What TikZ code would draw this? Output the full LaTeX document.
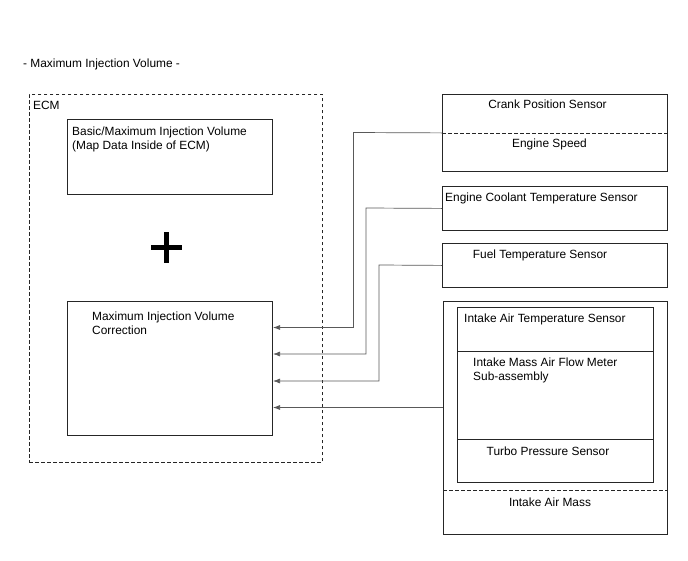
\documentclass[tikz,border=0pt]{standalone}
\usepackage{fontspec}
\setmainfont{Liberation Sans}
\usetikzlibrary{arrows.meta,calc}
\begin{document}
\begin{tikzpicture}[x=1pt,y=-1pt,
  every node/.style={font=\fontsize{11.9}{14}\selectfont, inner sep=0pt},
  box/.style={draw=black!85, line width=0.8pt, anchor=north west},
  dbox/.style={draw=black!85, line width=0.8pt, dashed, dash pattern=on 3.5pt off 2.5pt, anchor=north west},
  lbl/.style={anchor=base west, align=left},
  clbl/.style={anchor=base},
  conn/.style={draw=black!65, line width=0.7pt, -{Latex[length=7pt,width=5pt]}},
  sep/.style={draw=black!85, line width=0.8pt, dash pattern=on 3.5pt off 2.5pt}]
\useasboundingbox (0,0) rectangle (688,560);
% title
\node[lbl] (title) at (23,67) {- Maximum Injection Volume -};
% ECM
\node[dbox, minimum width=293pt, minimum height=368pt] (ecm) at (29,94) {};
\node[lbl] (ecmlbl) at (33,109) {ECM};
\node[box, minimum width=205pt, minimum height=75pt] (basic) at (67,119) {};
\node[lbl] (basicl1) at (72,135.5) {Basic/Maximum Injection Volume};
\node[lbl] (basicl2) at (72,149.5) {(Map Data Inside of ECM)};
% plus
\coordinate (pc) at (166.5,247.5);
\fill[black] ($(pc)+(-15.5,-2.5)$) rectangle ($(pc)+(15.5,2.5)$);
\fill[black] ($(pc)+(-2.5,-15.5)$) rectangle ($(pc)+(2.5,15.5)$);
\node[box, minimum width=205pt, minimum height=134pt] (corr) at (67,301) {};
\node[lbl] (corrl1) at (92,320) {Maximum Injection Volume};
\node[lbl] (corrl2) at (92,334) {Correction};
% right boxes
\node[box, minimum width=225pt, minimum height=77pt] (crank) at (442,94) {};
\draw[sep] (crank.west) -- (crank.east);
\node[clbl] (crankl) at (547.5,108) {Crank Position Sensor};
\node[clbl] (engspd) at (549.5,147) {Engine Speed};
\node[box, minimum width=225pt, minimum height=44pt] (ect) at (442,186) {};
\node[lbl] (ectl) at (445,201) {Engine Coolant Temperature Sensor};
\node[box, minimum width=225pt, minimum height=44pt] (fuel) at (442,243) {};
\node[clbl] (fuell) at (540,258) {Fuel Temperature Sensor};
\node[box, minimum width=224pt, minimum height=233pt] (intake) at (443,301) {};
\node[box, minimum width=196pt, minimum height=175pt] (inner) at (457,307) {};
\draw[draw=black!85, line width=0.8pt] (457,351) -- (653,351);
\draw[draw=black!85, line width=0.8pt] (457,439) -- (653,439);
\draw[sep] (443,490) -- (667,490);
\node[lbl] (iatl) at (464,322.5) {Intake Air Temperature Sensor};
\node[lbl] (mafl1) at (473,366) {Intake Mass Air Flow Meter};
\node[lbl] (mafl2) at (473,380) {Sub-assembly};
\node[clbl] (tpsl) at (548,455) {Turbo Pressure Sensor};
\node[clbl] (iaml) at (550,506) {Intake Air Mass};
% connectors
\coordinate (a1) at (273,327.5);
\coordinate (a2) at (273,354);
\coordinate (a3) at (273,381);
\coordinate (a4) at (273,407.5);
\coordinate (s4) at (443,407.5);
\draw[conn] (crank.west) -- (353.5,132.5) |- (a1);
\draw[conn] (ect.west) -- (366,208) |- (a2);
\draw[conn] (fuel.west) -- (379,265) |- (a3);
\draw[conn] (s4) -- (a4);
\end{tikzpicture}
\end{document}
